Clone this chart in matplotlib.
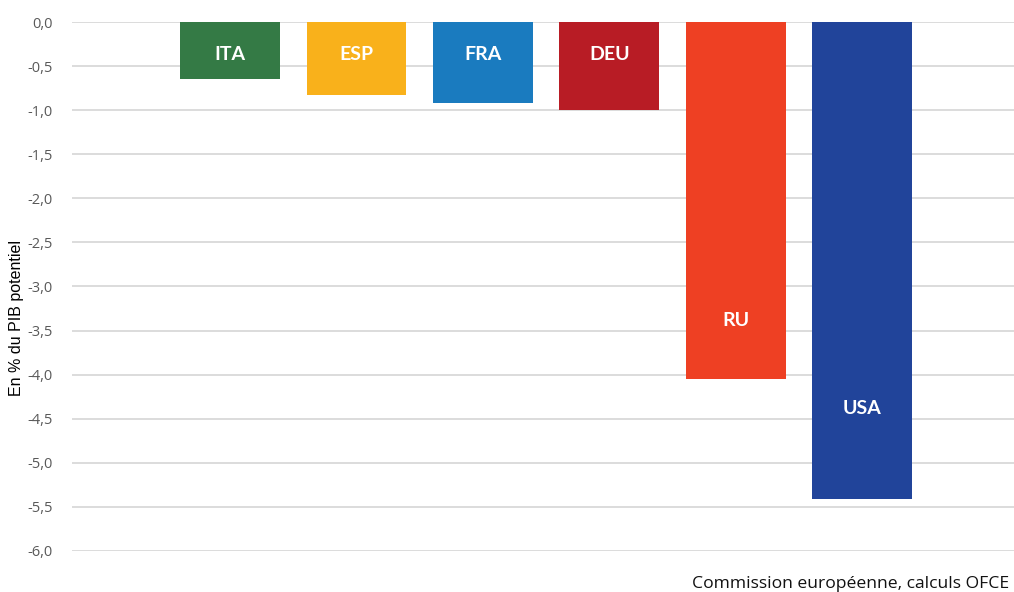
import matplotlib.pyplot as plt

countries = ['ITA', 'ESP', 'FRA', 'DEU', 'RU', 'USA']
values = [-0.65, -0.83, -0.92, -1.0, -4.05, -5.41]
label_y = [-0.37, -0.37, -0.37, -0.37, -3.39, -4.38]
colors = ['#347a45', '#f9b11b', '#1a7bbf', '#b81c25', '#ee4023', '#21449a']
yticks = [0, -0.5, -1, -1.5, -2, -2.5, -3, -3.5, -4, -4.5, -5, -5.5, -6]

plt.rcParams['font.family'] = ['Open Sans', 'DejaVu Sans']

fig = plt.figure(figsize=(10.14, 5.92), dpi=100)
ax = fig.add_axes([0.071, 0.0693, 0.929, 0.8935])

x = range(len(countries))
ax.bar(x, values, width=0.79, color=colors, zorder=2)
for i, name in enumerate(countries):
    ax.text(i, label_y[i], name, color='white', fontsize=14, fontweight='bold',
            ha='center', va='center', family=['Lato', 'DejaVu Sans'], zorder=3)

ax.set_xlim(-1.25, 6.2)
ax.set_ylim(-6, 0)
ax.set_yticks(yticks)
ax.set_yticklabels([f'{t:.1f}'.replace('.', ',') for t in yticks])
ax.set_xticks([])
ax.grid(axis='y', color='#d9d9d9', linewidth=1.3, zorder=1)
ax.tick_params(axis='y', length=0, pad=14, labelsize=10.5, labelcolor='#595959')
for s in ax.spines.values():
    s.set_visible(False)

ax.set_ylabel('En % du PIB potentiel', fontsize=11.5,
              family=['Liberation Sans', 'DejaVu Sans'])
ax.yaxis.set_label_coords(-0.051, 0.44)

fig.text(0.995, 0.014, 'Commission européenne, calculs OFCE', fontsize=12.6,
         color='#111111', ha='right', va='center')

fig.savefig('out.png', dpi=100)
